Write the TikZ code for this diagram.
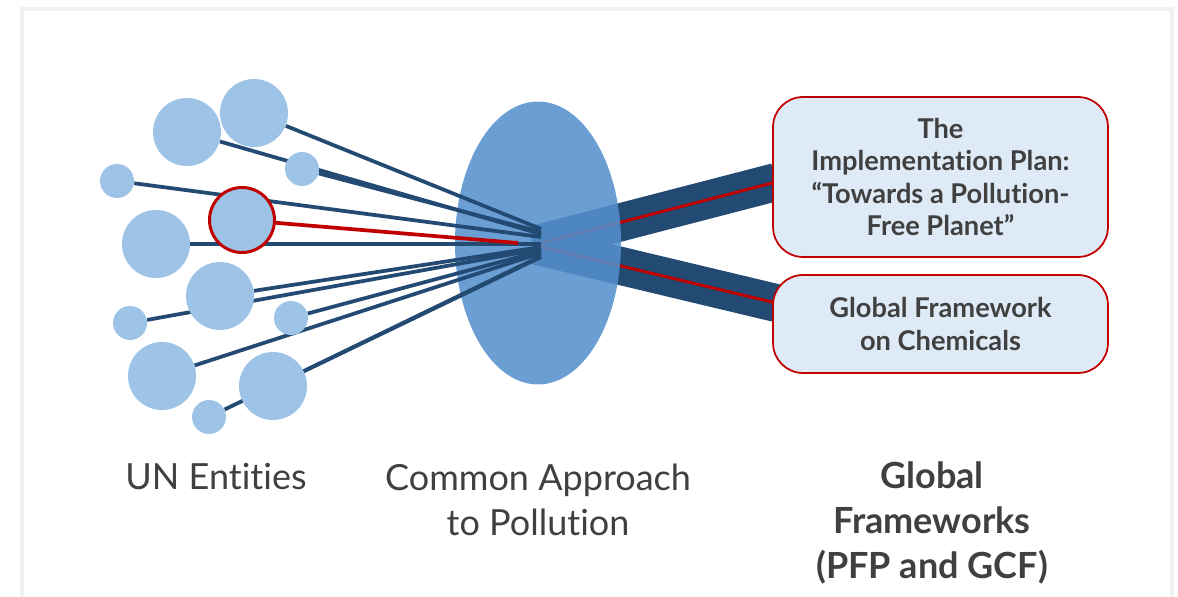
\documentclass[tikz,border=0pt]{standalone}
\usepackage{fontspec}
\setmainfont{Lato}[RawFeature=-liga]
\usetikzlibrary{shapes.geometric}
\definecolor{dotblue}{HTML}{9DC3E6}
\definecolor{lensblue}{HTML}{5590CD}
\definecolor{navy}{HTML}{234A73}
\definecolor{darkred}{HTML}{C00000}
\definecolor{boxblue}{HTML}{DEEAF6}
\definecolor{textgray}{HTML}{404040}
\definecolor{framegray}{HTML}{F0F0F0}
\pgfdeclarelayer{bandlayer}
\pgfdeclarelayer{lenslayer}
\pgfdeclarelayer{fanlayer}
\pgfsetlayers{bandlayer,lenslayer,fanlayer,main}
\tikzset{
  bigdot/.style={circle,fill=dotblue,minimum size=1.36cm,inner sep=0pt},
  smalldot/.style={circle,fill=dotblue,minimum size=0.68cm,inner sep=0pt},
  ray/.style={draw=navy,line width=0.075cm},
  band/.style={draw=navy,line width=0.76cm},
  goalbox/.style={draw=darkred,fill=boxblue,rounded corners=0.6cm,line width=0.035cm,
    minimum width=6.7cm,align=center,text=textgray,
    font=\bfseries\fontsize{15.5}{18.4}\selectfont},
  footer/.style={align=center,text=textgray,font=\fontsize{20.5}{25.5}\selectfont}
}
\begin{document}
\begin{tikzpicture}[x=0.02cm,y=-0.02cm]
\useasboundingbox (0,0) rectangle (1178,597);
\draw[framegray,line width=0.08cm] (22,650) -- (22,9) -- (1172,9) -- (1172,650);

% UN entities
\node[bigdot] (c1) at (187,132) {};
\node[bigdot] (c2) at (254,113) {};
\node[smalldot] (c3) at (117,181) {};
\node[smalldot] (c4) at (302,169) {};
\node[bigdot,draw=darkred,line width=0.06cm,minimum size=1.3cm] (c5) at (242,220) {};
\node[bigdot] (c6) at (156,244) {};
\node[bigdot] (c7) at (220,296) {};
\node[smalldot] (c8) at (130,323) {};
\node[smalldot] (c9) at (291,318) {};
\node[bigdot] (c10) at (162,376) {};
\node[bigdot] (c11) at (273,386) {};
\node[smalldot] (c12) at (209,417) {};

% common approach
\begin{pgfonlayer}{lenslayer}
\node[ellipse,fill=lensblue,fill opacity=0.87,minimum width=3.32cm,minimum height=5.66cm] (lens) at (538,243) {};
\end{pgfonlayer}
\coordinate (focus) at (533,245);
\coordinate (f1) at (541,229);
\coordinate (f2) at (541,234);
\coordinate (f3) at (541,232);
\coordinate (f4) at (541,237);
\coordinate (f5) at (518,243);
\coordinate (f6) at (541,244);
\coordinate (f7) at (541,247);
\coordinate (f8) at (541,249);
\coordinate (f9) at (541,251);
\coordinate (f10) at (541,253);
\coordinate (f11) at (541,256);
\coordinate (f12) at (541,257);

\begin{pgfonlayer}{fanlayer}
\draw[ray] (c1) -- (f2);
\draw[ray] (c2) -- (f1);
\draw[ray] (c3) -- (f4);
\draw[ray] (c4) -- (f3);
\draw[ray] (c6) -- (f6);
\draw[ray] (c7) -- (f7);
\draw[ray] (c8) -- (f8);
\draw[ray] (c9) -- (f9);
\draw[ray] (c10) -- (f10);
\draw[ray] (c11) -- (f11);
\draw[ray] (c12) -- (f12);
\draw[ray,darkred] (c5) -- (f5);
\end{pgfonlayer}

% global frameworks
\node[goalbox,minimum height=3.2cm] (pfp) at (940.5,177) {The\\Implementation Plan:\\“Towards a Pollution-\\Free Planet”};
\node[goalbox,minimum height=1.96cm] (gcf) at (940.5,324) {Global Framework\\on Chemicals};
\coordinate (pfpin) at (776,182);
\coordinate (gcfin) at (776,303);
\begin{pgfonlayer}{bandlayer}
\draw[band] (focus) -- (pfpin);
\draw[band] (focus) -- (gcfin);
\draw[darkred,line width=0.06cm] (focus) -- (pfpin);
\draw[darkred,line width=0.06cm] (focus) -- (gcfin);
\end{pgfonlayer}

% captions
\node[footer] (entities) at (216,477) {UN Entities};
\node[footer] (approach) at (538,500) {Common Approach\\to Pollution};
\node[footer,font=\bfseries\fontsize{20.5}{25.5}\selectfont] (frameworks) at (932,523) {Global\\Frameworks\\(PFP and GCF)};
\end{tikzpicture}
\end{document}
